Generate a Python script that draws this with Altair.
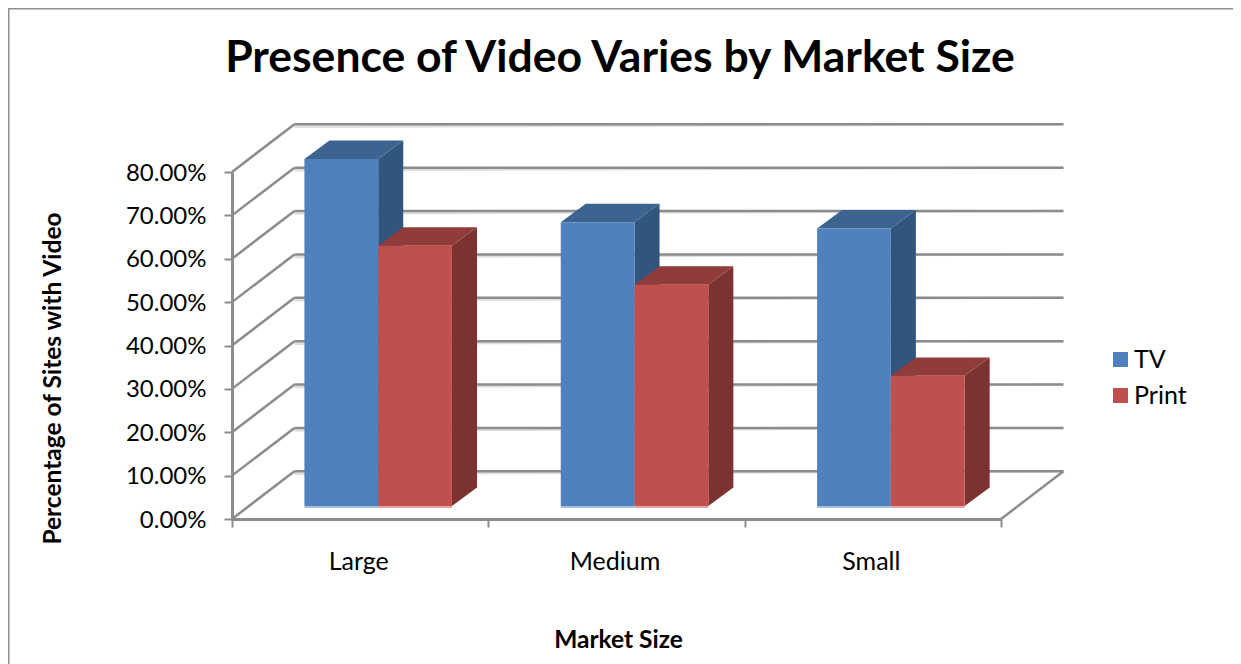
import altair as alt
import pandas as pd

categories = ["Large", "Medium", "Small"]
series = ["TV", "Print"]
tv_values = [0.80, 0.654, 0.64]
print_values = [0.60, 0.51, 0.30]
y_ticks = [0, 0.1, 0.2, 0.3, 0.4, 0.5, 0.6, 0.7, 0.8]
chart_title = "Presence of Video Varies by Market Size"

FONT = "Lato"
GRID = "#8c8c8c"
WIDTH, HEIGHT = 769, 347
LEFT, TOP = 224, 164
TOTAL_W, TOTAL_H = 1225, 656

# projection of the 3-D box, in axis units
WALL_DX, WALL_DY = 0.2437, 0.11
BAR_START, BAR_W = 0.2825, 0.2878
BAR_BASE = 0.03
BAR_DX, BAR_DY = 0.0977, 0.0426

front, side, top, base = [], [], [], []
for i, cat in enumerate(categories):
    for j, (name, val) in enumerate(zip(series, (tv_values[i], print_values[i]))):
        x0 = i + BAR_START + j * BAR_W
        x1 = x0 + BAR_W
        y0 = BAR_BASE
        y1 = BAR_BASE + val
        key = f"{cat}-{name}"
        front.append(dict(cat=cat, series=name, x=x0, x2=x1, y=y0, y2=y1))
        base.append(dict(series=name, x=x0, x2=x1, y=y0))
        side += [
            dict(key=key, series=name, x=x1, y=y0, y2=y1),
            dict(key=key, series=name, x=x1 + BAR_DX, y=y0 + BAR_DY, y2=y1 + BAR_DY),
        ]
        top += [
            dict(key=key, series=name, y=y1, x=x0, x2=x1),
            dict(key=key, series=name, y=y1 + BAR_DY, x=x0 + BAR_DX, x2=x1 + BAR_DX),
        ]

front = pd.DataFrame(front)
base = pd.DataFrame(base)
side = pd.DataFrame(side)
top = pd.DataFrame(top)

n = len(categories)
diag = pd.DataFrame(
    [dict(x=0, x2=WALL_DX, y=v, y2=v + WALL_DY) for v in y_ticks]
    + [dict(x=n, x2=n + WALL_DX, y=0, y2=WALL_DY)]
)
horiz = pd.DataFrame([dict(x=WALL_DX, x2=n + WALL_DX, y=v + WALL_DY, y2=v + WALL_DY) for v in y_ticks])

x_scale = alt.Scale(domain=[0, n], nice=False, zero=False)
y_scale = alt.Scale(domain=[0, 0.8], nice=False, zero=False)

x_axis = alt.Axis(
    title="Market Size",
    titleFont=FONT, titleFontSize=24.5, titleFontWeight="bold", titleColor="black",
    titleX=386, titleY=109,
    values=[k / 2 for k in range(2 * n + 1)],
    labelExpr="datum.value % 1 === 0 ? '' : " + str(categories) + "[floor(datum.value)]",
    labelFont=FONT, labelFontSize=25, labelColor="black", labelPadding=22, labelOffset=-2,
    labelOverlap=False, labelFlush=False,
    tickSize=8, tickWidth=2, tickColor=GRID,
    tickOpacity=alt.expr("datum.value % 1 === 0 ? 1 : 0"),
    domainColor=GRID, domainWidth=3, grid=False,
)
y_axis = alt.Axis(
    title="Percentage of Sites with Video",
    titleFont=FONT, titleFontSize=24.5, titleFontWeight="bold", titleColor="black",
    titleX=-167, titleY=206,
    values=y_ticks, format=".2%",
    labelFont=FONT, labelFontSize=24, labelColor="black", labelPadding=18, labelOffset=1,
    tickSize=8, tickWidth=2, tickColor=GRID,
    domainColor=GRID, domainWidth=3, grid=False,
)

X = alt.X("x:Q", scale=x_scale, axis=x_axis)
Y = alt.Y("y:Q", scale=y_scale, axis=y_axis)

shadow = alt.Chart(horiz).mark_rule(color="#dedede", strokeWidth=2.5, yOffset=2.5).encode(X, x2="x2:Q", y=Y, y2="y2:Q")
grid_h = alt.Chart(horiz).mark_rule(color=GRID, strokeWidth=2.5).encode(X, x2="x2:Q", y=Y, y2="y2:Q")
grid_d = alt.Chart(diag).mark_rule(color=GRID, strokeWidth=2.5).encode(X, x2="x2:Q", y=Y, y2="y2:Q")

def side_layer(name, color):
    return alt.Chart(side[side.series == name]).mark_area(color=color, orient="vertical").encode(
        X, y=Y, y2="y2:Q", detail="key:N")

def top_layer(name, color):
    return alt.Chart(top[top.series == name]).mark_area(color=color, orient="horizontal").encode(
        X, x2="x2:Q", y=Y, detail="key:N")

base_tv = alt.Chart(base[base.series == "TV"]).mark_rule(color="#a3c0e4", strokeWidth=2, yOffset=1).encode(X, x2="x2:Q", y=Y)
base_pr = alt.Chart(base[base.series == "Print"]).mark_rule(color="#e8a3a1", strokeWidth=2, yOffset=1).encode(X, x2="x2:Q", y=Y)

fronts = alt.Chart(front).mark_rect().encode(
    X, x2="x2:Q", y=Y, y2="y2:Q",
    color=alt.Color(
        "series:N",
        scale=alt.Scale(domain=series, range=["#4F81BD", "#C0504D"]),
        legend=alt.Legend(
            title=None, orient="none", legendX=876, legendY=175,
            symbolType="square", symbolSize=225, symbolStrokeWidth=0,
            labelFont=FONT, labelFontSize=25, labelColor="black", labelOffset=1,
            rowPadding=10,
        ),
    ),
)

one = pd.DataFrame({"a": [0]})
frame_left = alt.Chart(one).mark_rule(color="#8f8f8f", strokeWidth=1.5).encode(
    x=alt.value(-LEFT + 0.75), y=alt.value(-TOP + 0.75), y2=alt.value(TOTAL_H - TOP))
frame_top = alt.Chart(one).mark_rule(color="#8f8f8f", strokeWidth=1.5).encode(
    x=alt.value(-LEFT), x2=alt.value(TOTAL_W - LEFT), y=alt.value(-TOP + 0.75))
title = alt.Chart(pd.DataFrame({"t": [chart_title]})).mark_text(
    font=FONT, fontSize=44.5, fontWeight="bold", color="black", align="center", baseline="alphabetic"
).encode(text="t:N", x=alt.value(388), y=alt.value(-100))

chart = alt.layer(
    frame_left, frame_top, title,
    shadow, grid_h, grid_d,
    side_layer("TV", "#32557e"), top_layer("TV", "#3d6391"),
    side_layer("Print", "#7b3230"), top_layer("Print", "#8f3c3a"),
    base_tv, base_pr,
    fronts,
).properties(
    width=WIDTH, height=HEIGHT,
    padding={"left": LEFT, "top": TOP, "right": TOTAL_W - LEFT - WIDTH, "bottom": TOTAL_H - TOP - HEIGHT},
    autosize=alt.AutoSizeParams(type="none"),
    background="white",
).configure_view(stroke=None)

chart.save("out.html", embed_options={"renderer": "svg", "actions": False})
